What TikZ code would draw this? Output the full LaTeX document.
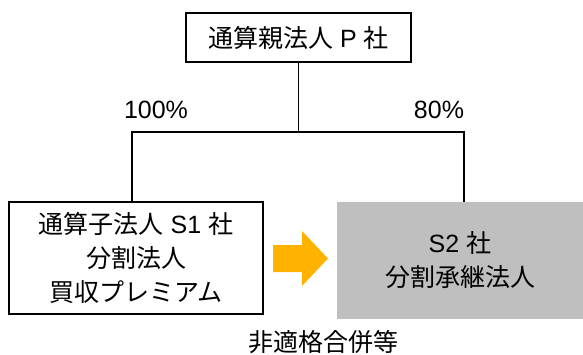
\documentclass[tikz,border=0pt]{standalone}
\usepackage{fontspec}
\usepackage{xcolor}
\setmainfont{Liberation Sans}
\newfontfamily\jpfont{Noto Sans CJK JP}
\newcommand{\jp}[1]{{\jpfont #1}}
\definecolor{boxgray}{HTML}{BFBFBF}
\definecolor{arroworange}{HTML}{FFB300}

\begin{document}
\begin{tikzpicture}[x=1pt,y=-1pt,
  txt/.style={inner sep=0pt,align=center,font=\fontsize{25}{34}\selectfont},
  entity/.style={txt,draw=black,line width=1.4pt,fill=white},
  heir/.style={txt,fill=boxgray}]
\useasboundingbox (0,0) rectangle (583,354);

% companies
\node[entity,minimum width=225pt,minimum height=49pt] (parent) at (298.5,37.5) {\jp{通算親法人} P \jp{社}};
\node[entity,minimum width=254pt,minimum height=112pt] (divider) at (136,258) {\jp{通算子法人} S1 \jp{社}\\\jp{分割法人}\\\jp{買収プレミアム}};
\node[heir,minimum width=246pt,minimum height=117pt] (successor) at (460,260.5) {S2 \jp{社}\\\jp{分割承継法人}};

% ownership lines
\coordinate (fork) at (298.5,132);
\coordinate (leftdrop) at (132,132);
\coordinate (rightdrop) at (464,132);
\draw[line width=1.4pt](parent.south)--(fork);
\draw[line width=1.4pt](divider.north -| leftdrop)--(leftdrop)--(rightdrop)--(successor.north -| rightdrop);

\node[txt] (pctleft) at (156,110) {100\%};
\node[txt] (pctright) at (439,110) {80\%};

% arrow
\fill[arroworange](273,245)--(302,245)--(302,231)--(328,258.5)--(302,286)--(302,272)--(273,272)--cycle;

\node[txt] (merger) at (323,342) {\jp{非適格合併等}};

\end{tikzpicture}
\end{document}
